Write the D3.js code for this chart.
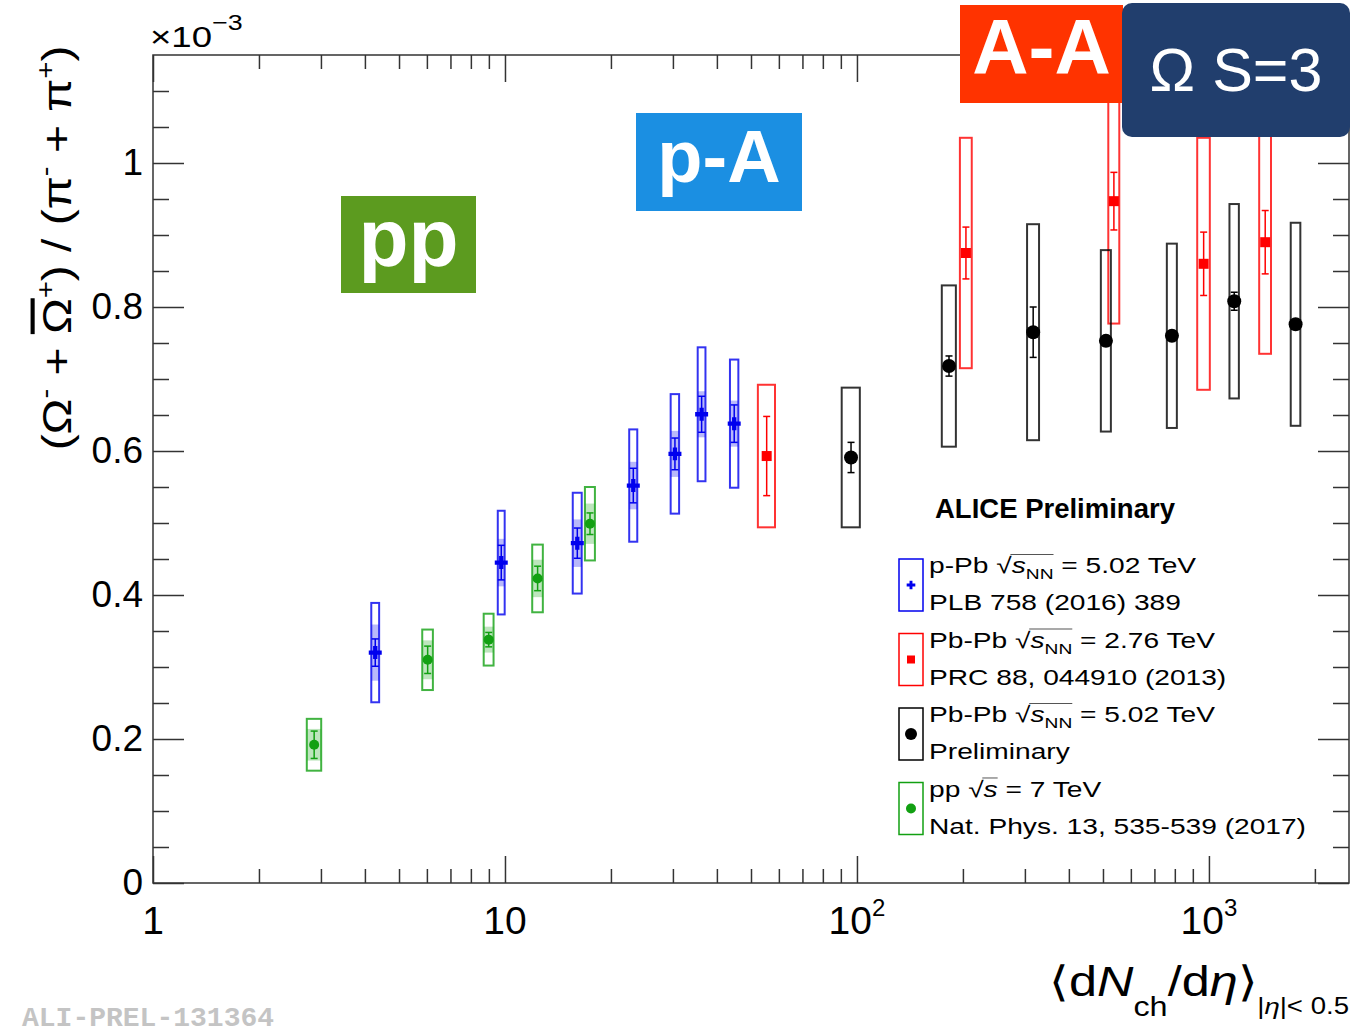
<!DOCTYPE html>
<html>
<head>
<meta charset="utf-8">
<script src="https://cdn.jsdelivr.net/npm/d3@7"></script>
<style>
  body { margin: 0; background: #fff; }
  svg { font-family: "Liberation Sans", Arial, sans-serif; }
</style>
</head>
<body>
<div id="chart"></div>
<script>
// ---- data (ratio in units of 10^-3) ----
// pp 7 TeV
const ppX = [2.87, 6.03, 8.99, 12.38, 17.44];
const ppY = [0.192, 0.310, 0.338, 0.423, 0.499];
const ppStat = [0.019, 0.019, 0.010, 0.017, 0.015];
const ppSys = [0.036, 0.042, 0.036, 0.047, 0.051];
const ppSysUnc = [0.022, 0.027, 0.018, 0.026, 0.028];
const ppXErr = [0.135, 0.21, 0.29, 0.43, 0.57];

// p-Pb 5.02 TeV
const pPbX = [4.28, 9.76, 16.05, 23.15, 30.4, 36.2, 44.8];
const pPbY = [0.320, 0.445, 0.472, 0.552, 0.596, 0.651, 0.638];
const pPbStat = [0.019, 0.024, 0.021, 0.024, 0.022, 0.025, 0.026];
const pPbSys = [0.069, 0.072, 0.070, 0.078, 0.083, 0.093, 0.089];
const pPbSysUnc = [0.039, 0.033, 0.033, 0.033, 0.032, 0.032, 0.032];
const pPbXErr = [0.11, 0.22, 0.47, 0.61, 0.84, 0.92, 1.23];

// Pb-Pb 2.76 TeV
const pbpb276X = [55.4, 204, 537, 966, 1445];
const pbpb276Y = [0.593, 0.875, 0.947, 0.860, 0.890];
const pbpb276Stat = [0.055, 0.036, 0.040, 0.044, 0.044];
const pbpb276Sys = [0.099, 0.160, 0.170, 0.175, 0.155];
const pbpb276XErr = [3.1, 7.9, 19.3, 39.8, 55.8];

// Pb-Pb 5.02 TeV (preliminary)
const pbpb502X = [96.2, 182.6, 316.7, 509.8, 785, 1180, 1763];
const pbpb502Y = [0.591, 0.718, 0.765, 0.753, 0.760, 0.808, 0.776];
const pbpb502Stat = [0.021, 0.014, 0.035, 0.007, 0.006, 0.0125, 0.006];
const pbpb502Sys = [0.097, 0.112, 0.150, 0.126, 0.128, 0.135, 0.141];
const pbpb502XErr = [5.7, 8.4, 12.4, 16.7, 25.7, 36.3, 55.4];

// tick labels
const xTickValues = [1, 10, 100, 1000];
const xTickBase = ["1", "10", "10", "10"];
const xTickSup = ["", "", "2", "3"];
const yTickValues = [0, 0.2, 0.4, 0.6, 0.8, 1.0];
const yTickLabels = ["0", "0.2", "0.4", "0.6", "0.8", "1"];

// legend
const legendSystems = ["p-Pb", "Pb-Pb", "Pb-Pb", "pp"];
const legendSub = ["NN", "NN", "NN", ""];
const legendEnergy = ["5.02 TeV", "2.76 TeV", "5.02 TeV", "7 TeV"];
const legendRefs = ["PLB 758 (2016) 389", "PRC 88, 044910 (2013)", "Preliminary", "Nat. Phys. 13, 535-539 (2017)"];

const badgeLabels = ["pp", "p-A", "A-A", "\u03A9 S=3"];

// ---- layout ----
const W = 1351, H = 1033;
const margin = { top: 55, right: 2, bottom: 150, left: 153 };
const x0 = margin.left, x1 = W - margin.right, y0 = H - margin.bottom, y1 = margin.top;

const svg = d3.select("#chart").append("svg")
  .attr("width", W).attr("height", H);

const x = d3.scaleLog().domain([1, 2500]).range([x0, x1]);
const y = d3.scaleLinear().domain([0, 1.15]).range([y0, y1]);

const axisColor = "#333";

// minor tick positions
let xMinor = [];
[1, 10, 100, 1000].forEach(d => {
  for (let k = 2; k <= 9; k++) if (k * d <= 2500) xMinor.push(k * d);
});
const yMinor = d3.range(1, 23).filter(i => i % 4 !== 0).map(i => i * 0.05);

function styleAxis(g) {
  g.select(".domain").remove();
  g.selectAll(".tick line").attr("stroke", axisColor).attr("stroke-width", 1.5);
}

// bottom / top
svg.append("g").attr("transform", `translate(0,${y0})`)
  .call(d3.axisBottom(x).tickValues(xMinor).tickSize(-14).tickFormat("")).call(styleAxis);
svg.append("g").attr("transform", `translate(0,${y0})`)
  .call(d3.axisBottom(x).tickValues(xTickValues).tickSize(-27).tickFormat("")).call(styleAxis);
svg.append("g").attr("transform", `translate(0,${y1})`)
  .call(d3.axisTop(x).tickValues(xMinor).tickSize(-14).tickFormat("")).call(styleAxis);
svg.append("g").attr("transform", `translate(0,${y1})`)
  .call(d3.axisTop(x).tickValues(xTickValues).tickSize(-27).tickFormat("")).call(styleAxis);

// left / right
svg.append("g").attr("transform", `translate(${x0},0)`)
  .call(d3.axisLeft(y).tickValues(yMinor).tickSize(-16).tickFormat("")).call(styleAxis);
const yAxisG = svg.append("g").attr("transform", `translate(${x0},0)`)
  .call(d3.axisLeft(y).tickValues(yTickValues).tickSize(-31).tickPadding(10)
    .tickFormat((d, i) => yTickLabels[i]))
  .call(styleAxis);
yAxisG.attr("font-family", null);
yAxisG.selectAll(".tick text").attr("font-size", 37).attr("fill", "#000");
svg.append("g").attr("transform", `translate(${x1},0)`)
  .call(d3.axisRight(y).tickValues(yMinor).tickSize(-16).tickFormat("")).call(styleAxis);
svg.append("g").attr("transform", `translate(${x1},0)`)
  .call(d3.axisRight(y).tickValues(yTickValues).tickSize(-31).tickFormat("")).call(styleAxis);

// frame
svg.append("rect")
  .attr("x", x0).attr("y", y1).attr("width", x1 - x0).attr("height", y0 - y1)
  .attr("fill", "none").attr("stroke", axisColor).attr("stroke-width", 1.5);

// x tick labels
svg.selectAll(".xlab").data(xTickValues).join("text")
  .attr("class", "xlab")
  .attr("x", d => x(d)).attr("y", y0 + 51)
  .attr("text-anchor", "middle").attr("font-size", 39)
  .each(function (d, i) {
    const t = d3.select(this);
    t.append("tspan").text(xTickBase[i]);
    if (xTickSup[i]) t.append("tspan").attr("dy", -18).attr("font-size", 24).text(xTickSup[i]);
  });

// x10^-3
const expo = svg.append("text").attr("transform", `translate(150,47) scale(1.22,1)`).attr("font-size", 30);
expo.append("tspan").text("\u00D710");
expo.append("tspan").attr("dy", -17).attr("font-size", 22).text("\u22123");

// y title
const yt = svg.append("text")
  .attr("transform", "translate(71,248) rotate(-90) scale(1.17,1)")
  .attr("text-anchor", "middle").attr("font-size", 41);
yt.append("tspan").text("(\u03A9");
yt.append("tspan").attr("dy", -17).attr("font-size", 25).text("-");
yt.append("tspan").attr("dy", 17).text(" + ");
yt.append("tspan").style("text-decoration", "overline").text("\u03A9");
yt.append("tspan").attr("dy", -17).attr("font-size", 25).text("+");
yt.append("tspan").attr("dy", 17).text(") / (\u03C0");
yt.append("tspan").attr("dy", -17).attr("font-size", 25).text("-");
yt.append("tspan").attr("dy", 17).text(" + \u03C0");
yt.append("tspan").attr("dy", -17).attr("font-size", 25).text("+");
yt.append("tspan").attr("dy", 17).text(")");

// x title
const xt = svg.append("text")
  .attr("transform", `translate(${x1},996) scale(1.2,1)`)
  .attr("text-anchor", "end").attr("font-size", 42);
xt.append("tspan").text("\u27E8d");
xt.append("tspan").attr("font-style", "italic").text("N");
xt.append("tspan").attr("dy", 20).attr("font-size", 27).text("ch");
xt.append("tspan").attr("dy", -20).text("/d");
xt.append("tspan").attr("font-style", "italic").text("\u03B7");
xt.append("tspan").text("\u27E9");
xt.append("tspan").attr("dy", 18).attr("font-size", 23).text("|");
xt.append("tspan").attr("font-size", 23).attr("font-style", "italic").text("\u03B7");
xt.append("tspan").attr("font-size", 23).text("|< 0.5");

// ---- data series ----
const series = [
  { xs: ppX, ys: ppY, stat: ppStat, sys: ppSys, unc: ppSysUnc, xe: ppXErr, color: "#12a012", marker: "circle", r: 5 },
  { xs: pPbX, ys: pPbY, stat: pPbStat, sys: pPbSys, unc: pPbSysUnc, xe: pPbXErr, color: "#0000ee", marker: "cross", r: 6 },
  { xs: pbpb276X, ys: pbpb276Y, stat: pbpb276Stat, sys: pbpb276Sys, unc: null, xe: pbpb276XErr, color: "#ff0000", marker: "square", r: 5 },
  { xs: pbpb502X, ys: pbpb502Y, stat: pbpb502Stat, sys: pbpb502Sys, unc: null, xe: pbpb502XErr, color: "#000000", marker: "circle", r: 7 }
];

const plot = svg.append("g");

function drawMarker(g, type, cx, cy, r, color) {
  if (type === "circle") {
    g.append("circle").attr("cx", cx).attr("cy", cy).attr("r", r).attr("fill", color);
  } else if (type === "square") {
    g.append("rect").attr("x", cx - r).attr("y", cy - r).attr("width", 2 * r).attr("height", 2 * r).attr("fill", color);
  } else {
    g.append("path").attr("transform", `translate(${cx},${cy})`)
      .attr("d", d3.symbol().type(d3.symbolCross).size(r * r * 2.6)()).attr("fill", color);
  }
}

series.forEach(s => {
  const g = plot.append("g");
  const pts = s.xs.map((v, i) => ({ x: v, y: s.ys[i], st: s.stat[i], sy: s.sys[i], un: s.unc ? s.unc[i] : 0, xe: s.xe[i] }));
  if (s.unc) {
    g.selectAll(".unc").data(pts).join("rect")
      .attr("x", d => x(d.x - d.xe)).attr("width", d => x(d.x + d.xe) - x(d.x - d.xe))
      .attr("y", d => y(d.y + d.un)).attr("height", d => y(d.y - d.un) - y(d.y + d.un))
      .attr("fill", s.color).attr("fill-opacity", 0.28);
  }
  g.selectAll(".box").data(pts).join("rect")
    .attr("x", d => x(d.x - d.xe)).attr("width", d => x(d.x + d.xe) - x(d.x - d.xe))
    .attr("y", d => y(d.y + d.sy)).attr("height", d => y(d.y - d.sy) - y(d.y + d.sy))
    .attr("fill", "none").attr("stroke", s.color).attr("stroke-opacity", 0.8).attr("stroke-width", 2);
  g.selectAll(".err").data(pts).join("line")
    .attr("x1", d => x(d.x)).attr("x2", d => x(d.x))
    .attr("y1", d => y(d.y - d.st)).attr("y2", d => y(d.y + d.st))
    .attr("stroke", s.color).attr("stroke-width", 1.5);
  [-1, 1].forEach(sg => {
    g.selectAll(".cap" + sg).data(pts).join("line")
      .attr("x1", d => x(d.x) - 3.5).attr("x2", d => x(d.x) + 3.5)
      .attr("y1", d => y(d.y + sg * d.st)).attr("y2", d => y(d.y + sg * d.st))
      .attr("stroke", s.color).attr("stroke-width", 1.5);
  });
  pts.forEach(d => drawMarker(g, s.marker, x(d.x), y(d.y), s.r, s.color));
});

// ---- legend ----
svg.append("text").attr("x", 935).attr("y", 518)
  .attr("font-size", 27.5).attr("font-weight", "bold").text("ALICE Preliminary");

const legendOrder = [1, 2, 3, 0]; // series index per legend entry
const legendMarkR = [4, 4, 6, 5];
legendSystems.forEach((sysName, i) => {
  const top = 559 + i * 74.5;
  const s = series[legendOrder[i]];
  svg.append("rect").attr("x", 899).attr("y", top).attr("width", 24).attr("height", 52)
    .attr("fill", "none").attr("stroke", s.color).attr("stroke-width", 1.5);
  drawMarker(svg, s.marker, 911, top + 26, legendMarkR[i], s.color);

  const g1 = svg.append("g").attr("transform", `translate(929,${top + 14}) scale(1.28,1)`);
  const t = g1.append("text").attr("font-size", 22);
  t.append("tspan").text(sysName + " ");
  t.append("tspan").text("\u221A");
  t.append("tspan").attr("font-style", "italic").text("s");
  if (legendSub[i]) t.append("tspan").attr("dy", 6).attr("font-size", 15).text(legendSub[i]);
  t.append("tspan").attr("dy", legendSub[i] ? -6 : 0).text(" = " + legendEnergy[i]);
  // overline of the square root
  const node = t.node();
  const iRoot = sysName.length + 1;
  const iEnd = iRoot + 1 + legendSub[i].length;
  const eR = node.getExtentOfChar(iRoot), eE = node.getExtentOfChar(iEnd);
  g1.append("line")
    .attr("x1", eR.x + eR.width - 1).attr("x2", eE.x + eE.width)
    .attr("y1", eR.y + 1.5).attr("y2", eR.y + 1.5)
    .attr("stroke", "#555").attr("stroke-width", 1);

  svg.append("g").attr("transform", `translate(929,${top + 51}) scale(1.28,1)`)
    .append("text").attr("font-size", 22).text(legendRefs[i]);
});

// ---- badges ----
const badges = [
  { x: 341, y: 196, w: 135, h: 97, fill: "#5c9b1f", size: 82, weight: "bold", base: 266 },
  { x: 636, y: 113, w: 166, h: 98, fill: "#1b8fe2", size: 74, weight: "bold", base: 182 },
  { x: 960, y: 5, w: 163, h: 98, fill: "#ff3300", size: 78, weight: "bold", base: 74 },
  { x: 1122, y: 3, w: 228, h: 134, fill: "#213e6d", size: 61, weight: "normal", base: 91, rx: 10 }
];
badges.forEach((b, i) => {
  svg.append("rect").attr("x", b.x).attr("y", b.y).attr("width", b.w).attr("height", b.h)
    .attr("rx", b.rx || 0).attr("fill", b.fill);
  svg.append("text").attr("x", b.x + b.w / 2).attr("y", b.base)
    .attr("text-anchor", "middle").attr("font-size", b.size).attr("font-weight", b.weight)
    .attr("fill", "#fff").text(badgeLabels[i]);
});

// ---- tag ----
svg.append("text").attr("x", 22).attr("y", 1026)
  .style("font-family", "'Liberation Mono', 'Courier New', monospace")
  .attr("font-weight", "bold").attr("font-size", 28).attr("fill", "#c4c4c4")
  .text("ALI-PREL-131364");
</script>
</body>
</html>
